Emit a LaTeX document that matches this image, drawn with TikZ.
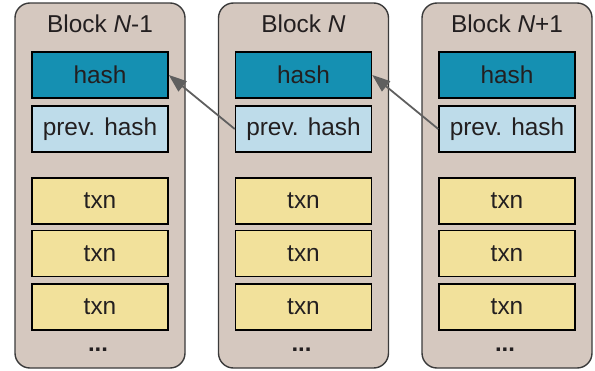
\documentclass[tikz,border=0pt]{standalone}
\usepackage{fontspec}
\setmainfont{Liberation Sans}
\usetikzlibrary{arrows.meta}
\definecolor{blockfill}{HTML}{D5C8BF}
\definecolor{blockline}{HTML}{3A3A3A}
\definecolor{hashfill}{HTML}{1590B2}
\definecolor{prevfill}{HTML}{BEDCEA}
\definecolor{txnfill}{HTML}{F2E19B}
\definecolor{txtcol}{HTML}{231F20}
\definecolor{arrcol}{HTML}{5F5F5F}
\tikzset{
  blockbox/.style={draw=blockline, fill=blockfill, line width=1.4pt, rounded corners=15pt},
  inbox/.style={draw=black, line width=1.5pt, minimum width=136bp, minimum height=46bp, inner sep=0pt, text=txtcol, font=\fontsize{24.5}{26}\selectfont},
  hashbox/.style={inbox, fill=hashfill},
  prevbox/.style={inbox, fill=prevfill},
  txnbox/.style={inbox, fill=txnfill},
  title/.style={text=txtcol, font=\fontsize{24.5}{26}\selectfont, inner sep=0pt},
  dots/.style={text=txtcol, font=\fontsize{24}{26}\selectfont\bfseries, inner sep=0pt, anchor=base},
  link/.style={draw=arrcol, line width=1.8pt, -{Triangle[length=18bp,width=13bp]}}
}
\begin{document}
\begin{tikzpicture}[x=1bp, y=-1bp]
\useasboundingbox (0,0) rectangle (595,370);
\foreach \i/\cx/\lab in {1/100/{Block \textit{N}-1}, 2/303.5/{Block \textit{N}}, 3/507/{Block \textit{N}+1}} {
  \draw[blockbox] (\cx-85,3) rectangle (\cx+85,368);
  \node[title] (t\i) at (\cx,24) {\lab};
  \node[hashbox] (h\i) at (\cx,75) {hash};
  \node[prevbox] (p\i) at (\cx,129) {prev. hash};
  \node[txnbox] (a\i) at (\cx,201) {txn};
  \node[txnbox] (b\i) at (\cx,253.5) {txn};
  \node[txnbox] (c\i) at (\cx,307) {txn};
  \node[dots] (d\i) at (\cx-2,351) {...};
}
\draw[link] (p2.west) -- (h1.east);
\draw[link] (p3.west) -- (h2.east);
\end{tikzpicture}
\end{document}
